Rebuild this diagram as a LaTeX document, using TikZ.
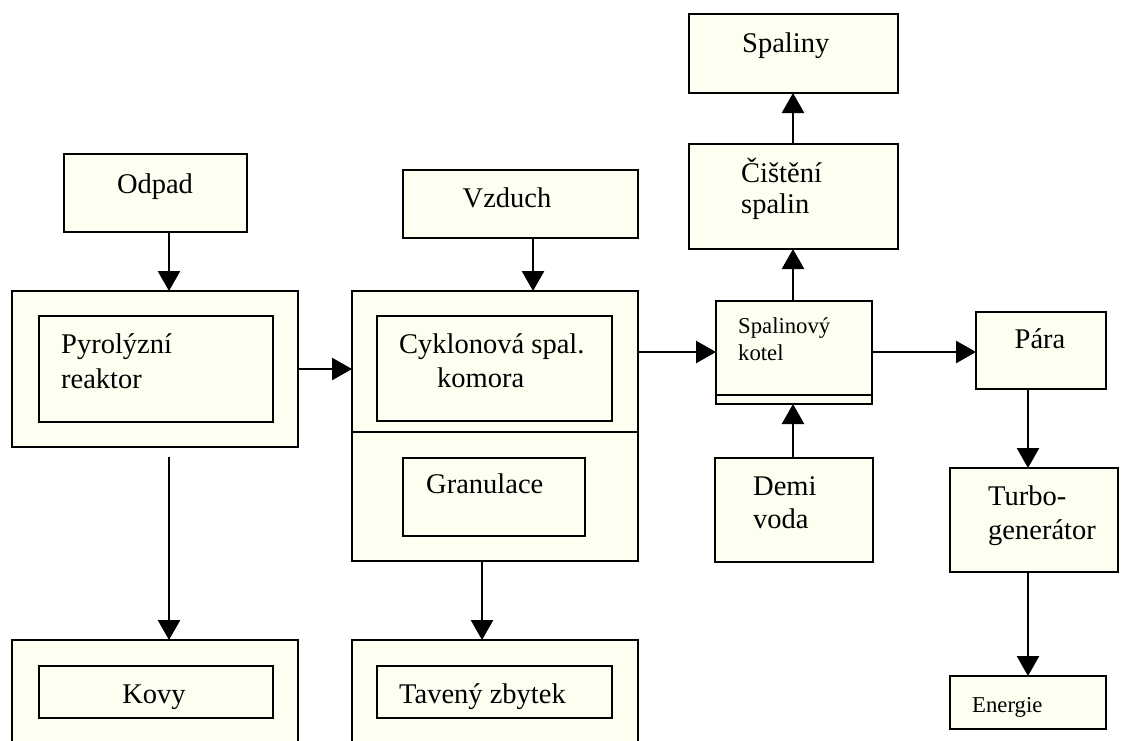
\documentclass[tikz,border=0pt]{standalone}
\usepackage{fontspec}
\setmainfont{Liberation Serif}
\usetikzlibrary{arrows.meta,fit}
\definecolor{cream}{HTML}{FEFEF1}
\begin{document}
\begin{tikzpicture}[x=1pt,y=-1pt,
  box/.style={draw=black,fill=cream,line width=2.8pt,inner sep=0pt,outer sep=0pt,rectangle},
  txt/.style={font=\fontsize{28.5}{34.5}\selectfont,inner sep=0pt,anchor=base west},
  stxt/.style={font=\fontsize{22.7}{27}\selectfont,inner sep=0pt,anchor=base west},
  arr/.style={line width=2.6pt,-{Triangle[length=20pt,width=22pt]}}]
\useasboundingbox (0,0) rectangle (1122,740);
\clip (0,0) rectangle (1122,740);
% --- left column
\node[box,fit={(64,154) (247,232)}] (odpad) {};
\node[txt,anchor=base] (todpad) at (155,193) {Odpad};
\node[box,fit={(12,291) (298,447)}] (pyro) {};
\node[box,fit={(39,316) (273,422)}] (pyroin) {};
\node[txt] (tpyro1) at (61,353) {Pyrolýzní};
\node[txt] (tpyro2) at (61,388) {reaktor};
\node[box,fit={(12,640) (298,770)}] (kovy) {};
\node[box,fit={(39,666) (273,718)}] (kovyin) {};
\node[txt,anchor=base] (tkovy) at (154,703) {Kovy};
\coordinate (pyrobot) at (169,457);
% --- middle column
\node[box,fit={(403,170) (638,238)}] (vzduch) {};
\node[txt,anchor=base] (tvzduch) at (507,207) {Vzduch};
\node[box,fit={(352,291) (638,561)}] (cykl) {};
\draw[line width=2.8pt] (cykl.west |- 0,432) -- (cykl.east |- 0,432);
\node[box,fit={(377,316) (612,421)}] (cyklin) {};
\node[txt] (tcykl1) at (399,353) {Cyklonová spal.};
\node[txt] (tcykl2) at (437,387) {komora};
\node[box,fit={(403,458) (585,536)}] (gran) {};
\node[txt] (tgran) at (426,493) {Granulace};
\node[box,fit={(352,640) (638,770)}] (tav) {};
\node[box,fit={(377,666) (612,718)}] (tavin) {};
\node[txt] (ttav) at (399,703) {Tavený zbytek};
% --- kotel column
\node[box,fit={(689,14) (898,93)}] (spaliny) {};
\node[txt] (tspaliny) at (742,52) {Spaliny};
\node[box,fit={(689,144) (898,249)}] (cist) {};
\node[txt] (tcist1) at (741,182) {Čištění};
\node[txt] (tcist2) at (741,213) {spalin};
\node[box,fit={(716,301) (872,404)}] (kotel) {};
\draw[line width=2.4pt] (kotel.west |- 0,395) -- (kotel.east |- 0,395);
\node[stxt] (tkotel1) at (738,333) {Spalinový};
\node[stxt] (tkotel2) at (738,360) {kotel};
\node[box,fit={(715,458) (873,562)}] (demi) {};
\node[txt] (tdemi1) at (753,495) {Demi};
\node[txt] (tdemi2) at (753,528) {voda};
% --- right column
\node[box,fit={(976,312) (1106,389)}] (para) {};
\node[txt,anchor=base] (tpara) at (1040,348) {Pára};
\node[box,fit={(950,468) (1118,572)}] (turbo) {};
\node[txt] (tturbo1) at (988,505) {Turbo-};
\node[txt] (tturbo2) at (988,539) {generátor};
\node[box,fit={(950,676) (1106,729)}] (energie) {};
\node[stxt] (tenergie) at (972,712) {Energie};
% --- connectors
\draw[arr] (odpad.south -| 169,0) -- (pyro.north -| 169,0);
\draw[arr] (pyrobot) -- (kovy.north -| pyrobot);
\draw[arr] (pyro.east |- 0,369) -- (cykl.west |- 0,369);
\draw[arr] (vzduch.south -| 533,0) -- (cykl.north -| 533,0);
\draw[arr] (cykl.south -| 482,0) -- (tav.north -| 482,0);
\draw[arr] (cykl.east |- 0,352) -- (kotel.west |- 0,352);
\draw[arr] (kotel.north -| 793,0) -- (cist.south -| 793,0);
\draw[arr] (cist.north -| 793,0) -- (spaliny.south -| 793,0);
\draw[arr] (demi.north -| 793,0) -- (kotel.south -| 793,0);
\draw[arr] (kotel.east |- 0,352) -- (para.west |- 0,352);
\draw[arr] (para.south -| 1028,0) -- (turbo.north -| 1028,0);
\draw[arr] (turbo.south -| 1028,0) -- (energie.north -| 1028,0);
\end{tikzpicture}
\end{document}
